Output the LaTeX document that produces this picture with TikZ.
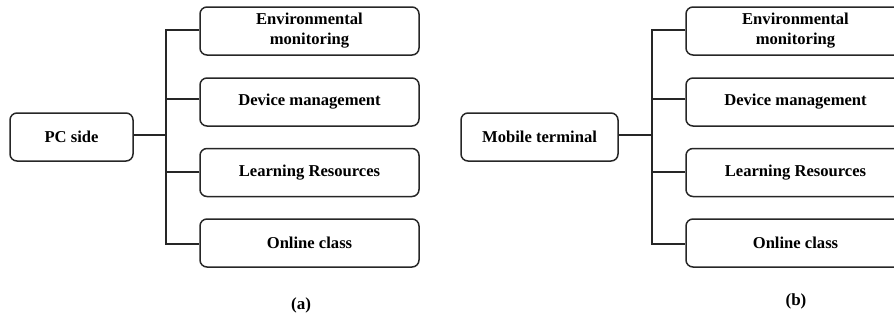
\documentclass[tikz,border=0pt]{standalone}
\usepackage{fontspec}
\setmainfont{Liberation Serif}
\begin{document}
\begin{tikzpicture}[x=1pt,y=-1pt,
  box/.style={draw=black!85,line width=1.5pt,rounded corners=7pt,minimum height=48pt,align=center,inner sep=0pt,font=\bfseries\fontsize{16.6}{20}\selectfont},
  rootbox/.style={box,minimum width=123pt},
  leafbox/.style={box,minimum width=219pt},
  conn/.style={draw=black!85,line width=1.5pt},
  sublabel/.style={font=\bfseries\fontsize{17}{20}\selectfont}]
\useasboundingbox (0,0) rectangle (894,322);
\clip (0,0) rectangle (894,322);
% left panel
\node[rootbox] (pc) at (71.5,137) {PC side};
\node[leafbox] (l1) at (309.5,31) {Environmental\\monitoring};
\node[leafbox] (l2) at (309.5,102) {Device management};
\node[leafbox] (l3) at (309.5,172.5) {Learning Resources};
\node[leafbox] (l4) at (309.5,243) {Online class};
\coordinate (tl) at (166,135);
\draw[conn] (pc.east |- tl) -- (tl);
\draw[conn] (l1.west |- 0,30) -| (tl) |- (l4.west |- 0,244);
\draw[conn] (l2.west |- 0,99) -- (tl |- 0,99);
\draw[conn] (l3.west |- 0,172) -- (tl |- 0,172);
\node[sublabel] (ca) at (301,305) {(a)};
% right panel
\node[rootbox,minimum width=157pt] (mt) at (539.5,137) {Mobile terminal};
\node[leafbox] (r1) at (795.5,31) {Environmental\\monitoring};
\node[leafbox] (r2) at (795.5,102) {Device management};
\node[leafbox] (r3) at (795.5,172.5) {Learning Resources};
\node[leafbox] (r4) at (795.5,243) {Online class};
\coordinate (tr) at (652,135);
\draw[conn] (mt.east |- tr) -- (tr);
\draw[conn] (r1.west |- 0,30) -| (tr) |- (r4.west |- 0,244);
\draw[conn] (r2.west |- 0,99) -- (tr |- 0,99);
\draw[conn] (r3.west |- 0,172) -- (tr |- 0,172);
\node[sublabel] (cb) at (796,301) {(b)};
\end{tikzpicture}
\end{document}
